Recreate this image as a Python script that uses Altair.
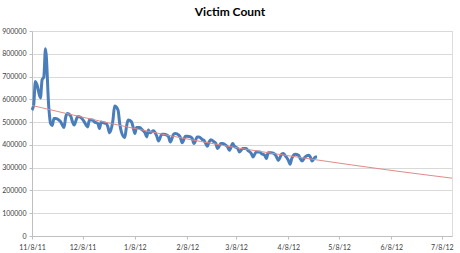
import altair as alt
import pandas as pd

# Victim count readings: day offset from 11/8/11 and value
days = [0, 1, 2, 3, 5, 6, 7, 8, 10, 11, 12, 13, 14, 16, 17, 18, 19, 20, 21, 23,
        24, 25, 27, 28, 30, 31, 33, 34, 36, 37, 39, 40, 41, 42, 44, 45, 46, 48, 49, 51,
        52, 53, 55, 56, 57, 59, 60, 61, 62, 64, 65, 67, 68, 69, 70, 72, 73, 74, 75, 77,
        78, 80, 81, 82, 84, 85, 87, 88, 89, 91, 92, 94, 95, 96, 98, 99, 101, 102, 104, 105,
        106, 108, 109, 110, 112, 113, 115, 116, 117, 119, 120, 122, 123, 125, 127, 128, 130, 131, 133, 135,
        136, 138, 139, 140, 142, 144, 145, 146, 148, 149, 150, 152, 153, 154, 156, 158, 159, 160, 162, 164,
        165, 166, 168, 169]
counts = [553, 575, 678, 663, 606, 686, 698, 822, 560, 494, 485, 516, 516, 509, 501, 487, 476, 523, 538, 526,
          501, 487, 523, 523, 512, 501, 479, 509, 509, 501, 494, 472, 501, 498, 494, 479, 453, 509, 571, 553,
          494, 457, 432, 479, 509, 501, 476, 450, 476, 476, 468, 453, 435, 465, 453, 462, 453, 438, 417, 447,
          447, 443, 435, 413, 447, 450, 443, 432, 409, 438, 438, 435, 428, 406, 435, 435, 423, 420, 394, 413,
          423, 413, 406, 384, 406, 406, 398, 391, 376, 406, 394, 384, 369, 384, 384, 376, 362, 347, 369, 369,
          362, 354, 340, 365, 365, 359, 347, 332, 359, 362, 354, 332, 315, 340, 359, 354, 340, 329, 347, 354,
          347, 329, 347, 347]
counts = [c * 1000 for c in counts]

# Trendline (curved, exponential-looking) values
trend_days = [0, 40, 80, 120, 169, 210, 249]
trend_counts = [573000, 505000, 443000, 389000, 334000, 291000, 254000]

tick_days = [0, 30, 61, 92, 121, 152, 182, 213, 243]
tick_labels = ["11/8/11", "12/8/11", "1/8/12", "2/8/12", "3/8/12", "4/8/12", "5/8/12", "6/8/12", "7/8/12"]
x_max = 249
y_ticks = [0, 100000, 200000, 300000, 400000, 500000, 600000, 700000, 800000, 900000]

df = pd.DataFrame({"day": days, "count": counts})
tdf = pd.DataFrame({"day": trend_days, "count": trend_counts})

label_expr = "[" + ",".join("'%s'" % l for l in tick_labels) + "][indexof([" + ",".join(str(d) for d in tick_days) + "], datum.value)]"

FONT = "Lato"

x_enc = alt.X("day:Q", scale=alt.Scale(domain=[0, x_max], nice=False, zero=False),
              axis=alt.Axis(values=tick_days, labelExpr=label_expr, grid=False, title=None,
                            domainColor="#BFBFBF", tickColor="#BFBFBF", tickSize=3,
                            labelFontSize=7, labelColor="#404040", labelFont=FONT, labelPadding=4,
                            labelFlush=False, labelOverlap=False))
y_enc = alt.Y("count:Q", scale=alt.Scale(domain=[0, 900000], nice=False),
              axis=alt.Axis(values=y_ticks, format="d", title=None, grid=True, gridColor="#D9D9D9",
                            domainColor="#BFBFBF", tickColor="#BFBFBF", tickSize=3,
                            labelFontSize=7, labelColor="#404040", labelFont=FONT, labelPadding=3,
                            labelOverlap=False, labelFlush=False))

line = alt.Chart(df).mark_line(color="#4A7EBB", strokeWidth=3, interpolate="monotone").encode(
    x=x_enc, y=y_enc)

trend = alt.Chart(tdf).mark_line(color="#E08A8A", strokeWidth=1, interpolate="monotone").encode(
    x=x_enc, y=y_enc)

chart = alt.layer(line, trend).properties(
    width=420, height=205,
    title=alt.TitleParams("Victim Count", font=FONT, fontSize=12, fontWeight="bold", color="#000000",
                          anchor="middle", dx=-12, offset=8),
    autosize=alt.AutoSizeParams(type="none"),
    padding={"left": 32, "top": 31, "right": 8, "bottom": 17},
).configure_view(stroke=None).configure(background="white")

chart.save("out.html", embed_options={"renderer": "svg", "actions": False})
